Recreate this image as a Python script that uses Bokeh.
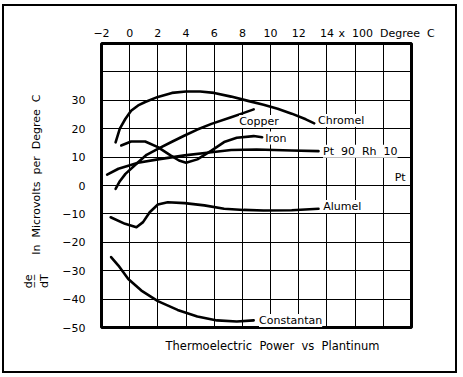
import math
from bokeh.plotting import figure
from bokeh.layouts import column
from bokeh.models import Range1d, LinearAxis, FixedTicker, Label, Title
from bokeh.embed import file_html
from bokeh.resources import INLINE

FONT = "DejaVu Sans"
SP = "\u00a0\u00a0"

# --- data (x in 100 degC, y in microvolts per degC) ---
chromel_x = [-1.0, -0.7, -0.3, 0.1, 0.6, 1.1, 2.0, 3.0, 4.0, 5.0, 6.0, 7.2, 8.4, 9.5, 10.5, 11.5, 12.5, 13.1]
chromel_y = [15.2, 20.0, 23.5, 26.3, 28.2, 29.4, 31.2, 32.6, 33.1, 33.1, 32.6, 31.3, 29.8, 28.4, 27.0, 25.3, 23.3, 21.9]

copper_x = [-1.0, -0.7, -0.3, 0.6, 1.2, 2.0, 3.0, 3.9, 4.8, 5.8, 7.2, 8.0, 8.8]
copper_y = [-1.2, 1.5, 4.1, 8.2, 10.8, 12.9, 15.4, 17.6, 19.7, 21.7, 24.0, 25.4, 26.8]

iron_x = [-0.6, 0.1, 1.1, 2.0, 2.9, 3.5, 4.0, 4.8, 5.8, 6.7, 7.6, 8.8, 9.4]
iron_y = [14.1, 15.5, 15.5, 13.5, 10.6, 8.8, 8.0, 9.2, 12.3, 15.3, 16.8, 17.4, 17.0]

ptrh_x = [-1.6, -0.8, 0.6, 2.0, 3.9, 5.8, 7.2, 9.0, 11.5, 13.4]
ptrh_y = [3.8, 5.9, 8.0, 9.2, 10.6, 11.7, 12.5, 12.7, 12.3, 12.1]

alumel_x = [-1.35, -0.33, 0.48, 0.95, 1.42, 2.0, 2.7, 3.9, 5.3, 6.7, 8.1, 9.5, 11.5, 13.4]
alumel_y = [-11.2, -13.5, -14.7, -12.9, -9.4, -6.7, -5.9, -6.2, -7.0, -8.2, -8.6, -8.8, -8.7, -8.2]

constantan_x = [-1.32, -0.8, -0.1, 0.83, 2.0, 3.4, 4.8, 6.2, 7.6, 8.8]
constantan_y = [-25.2, -28.2, -32.9, -37.0, -40.7, -43.8, -46.1, -47.5, -47.9, -47.5]

x_ticks = [-2, 0, 2, 4, 6, 8, 10, 12, 14]
y_ticks = [-50, -40, -30, -20, -10, 0, 10, 20, 30]
x_grid = [0, 2, 4, 6, 8, 10, 12, 14, 16, 18]
y_grid = [-40, -30, -20, -10, 0, 10, 20, 30, 40]
x_unit_text = "x" + SP + "100" + SP + "Degree" + SP + "C"
y_title = "In" + SP + "Microvolts" + SP + "per" + SP + "Degree" + SP + "C"
y_fraction = "d\u0332e\u0332\ndT"
caption = "Thermoelectric" + SP + "Power" + SP + "vs" + SP + "Plantinum"

curve_labels = [
    ("Chromel", 13.37, 22.9, "left"),
    ("Copper", 7.77, 22.5, "left"),
    ("Iron", 9.62, 16.7, "left"),
    ("Pt" + SP + "90" + SP + "Rh" + SP + "10", 13.72, 12.1, "left"),
    ("Pt", 19.58, 2.8, "right"),
    ("Alumel", 13.74, -7.4, "left"),
    ("Constantan", 9.18, -47.5, "left"),
]

p = figure(width=451, height=365, output_backend="svg", toolbar_location=None,
           x_range=Range1d(-2, 20), y_range=Range1d(-50, 50),
           x_axis_location=None, y_axis_location=None,
           min_border_left=94, min_border_right=44, min_border_top=37, min_border_bottom=44,
           background_fill_color="white", border_fill_color="white")

p.outline_line_color = "black"
p.outline_line_width = 3
p.outline_line_alpha = 1

def minus(v):
    return str(v).replace("-", "\u2212")

x_over = {t: minus(t) for t in x_ticks}
x_over[18.24] = x_unit_text
top_axis = LinearAxis(ticker=FixedTicker(ticks=x_ticks + [18.24]), major_label_overrides=x_over)
left_axis = LinearAxis(ticker=FixedTicker(ticks=y_ticks),
                       major_label_overrides={t: minus(t) for t in y_ticks})
title_axis = LinearAxis(ticker=FixedTicker(ticks=[32.0, -31.3]),
                        major_label_overrides={32.0: y_title, -31.3: y_fraction},
                        major_label_orientation=math.pi / 2)
for ax in (top_axis, left_axis, title_axis):
    ax.axis_line_color = None
    ax.major_tick_line_color = None
    ax.minor_tick_line_color = None
    ax.major_label_text_font = FONT
    ax.major_label_text_font_size = "11px"
    ax.major_label_text_color = "black"
top_axis.major_label_standoff = -2
left_axis.major_label_standoff = 10
title_axis.major_label_standoff = 17
p.add_layout(top_axis, "above")
p.add_layout(left_axis, "left")
p.add_layout(title_axis, "left")

p.xgrid.ticker = FixedTicker(ticks=x_grid)
p.ygrid.ticker = FixedTicker(ticks=y_grid)
for g in (p.xgrid, p.ygrid):
    g.grid_line_color = "black"
    g.grid_line_width = 1
    g.grid_line_alpha = 1

for xs, ys in [(chromel_x, chromel_y), (copper_x, copper_y), (iron_x, iron_y),
               (ptrh_x, ptrh_y), (alumel_x, alumel_y), (constantan_x, constantan_y)]:
    p.line(xs, ys, line_color="black", line_width=2.6, line_join="round", line_cap="round")

for text, x, y, align in curve_labels:
    p.add_layout(Label(x=x, y=y, text=text, text_font=FONT, text_font_size="11px",
                       text_align=align, text_baseline="middle", text_color="black",
                       background_fill_color="white", background_fill_alpha=1.0))

p.add_layout(Title(text=caption, align="left", text_font=FONT, text_color="black",
                   text_font_size="11.5px", text_font_style="normal", standoff=18, offset=64), "below")

layout = column(p, styles={"border": "2px solid black", "margin-left": "2px", "margin-top": "4px"})

open("out.html", "w").write(file_html(layout, INLINE))
